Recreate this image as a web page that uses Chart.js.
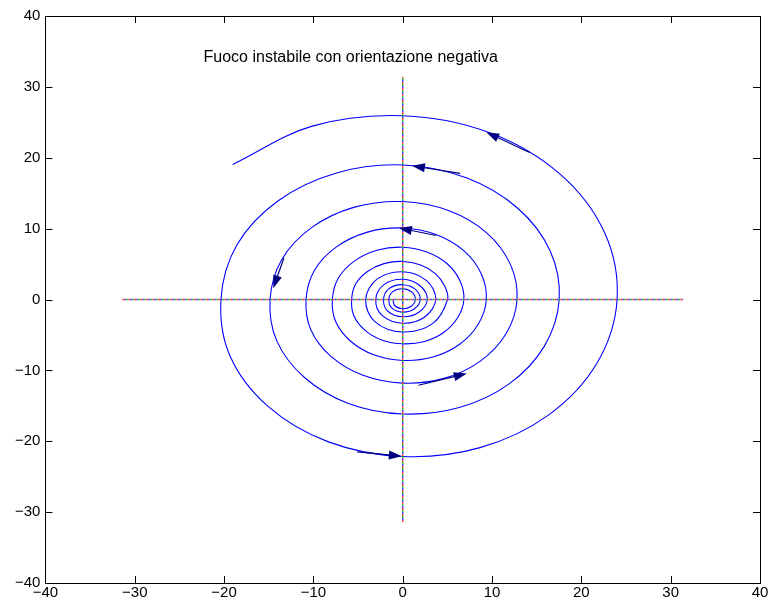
<!DOCTYPE html>
<html>
<head>
<meta charset="utf-8">
<title>Fuoco instabile con orientazione negativa</title>
<script src="https://cdn.jsdelivr.net/npm/chart.js@4.4.1/dist/chart.umd.min.js"></script>
<style>
    html, body { margin: 0; padding: 0; background: #fff; }
    #wrap { width: 773px; height: 603px; position: relative; }
</style>
</head>
<body>
<div id="wrap"><canvas id="phaseChart"></canvas></div>
<script>
// Axis limits and tick values (MATLAB style box)
const AXIS_MIN = -40;
const AXIS_MAX = 40;
const tickValues = [-40, -30, -20, -10, 0, 10, 20, 30, 40];

// Trajectory, from the centre outwards (counter-clockwise).
// Inner turns every 45 degrees, outer turns every 22.5 degrees.
const spiralX = [
    -1.10, -0.88, 0, 0.95, 1.41, 1.03, 0, -1.12,
    -1.55, -1.21, 0, 1.31, 1.96, 1.42, 0, -1.53,
    -2.15, -1.66, 0, 1.80, 2.75, 1.94, 0, -2.10,
    -3.02, -2.28, 0, 2.46, 3.70, 2.67, 0, -2.88,
    -4.15, -3.12, 0, 3.37,
    5.02, 4.68, 3.65, 2.01, 0, -2.10, -3.95, -5.27, -5.72, -5.48, -4.28, -2.36, 0, 2.45, 4.62, 6.16,
    6.85, 6.41, 5.01, 2.77, 0, -2.88, -5.42, -7.22, -7.88, -7.51, -5.86, -3.24, 0, 3.37, 6.34, 8.45,
    9.36, 8.79, 6.86, 3.79, 0, -3.94, -7.42, -9.89, -10.82, -10.29, -8.03, -4.44, 0, 4.62, 8.69, 11.58,
    12.80, 12.04, 9.40, 5.19, 0, -5.40, -10.17, -13.55, -14.85, -14.10, -11.00, -6.08, 0, 6.32, 11.91, 15.86,
    17.52, 16.51, 12.88, 7.12, 0, -7.40, -13.94, -18.57, -20.35, -19.32, -15.08, -8.32, 0, 8.66, 16.31, 21.74,
    24.00, 22.62, 17.65, 9.74, 0, -10.13, -19.05
];
const spiralY = [
    0, -0.88, -1.30, -0.95, 0, 1.03, 1.52, 1.12,
    0, -1.21, -1.78, -1.31, 0, 1.42, 2.09, 1.53,
    0, -1.66, -2.44, -1.80, 0, 1.94, 2.86, 2.10,
    0, -2.28, -3.35, -2.46, 0, 2.67, 3.92, 2.88,
    0, -3.12, -4.59, -3.37,
    0, 1.94, 3.65, 4.86, 5.37, 5.06, 3.95, 2.18, 0, -2.27, -4.28, -5.70, -6.25, -5.92, -4.62, -2.55,
    0, 2.66, 5.01, 6.67, 7.38, 6.94, 5.42, 2.99, 0, -3.11, -5.86, -7.81, -8.60, -8.12, -6.34, -3.50,
    0, 3.64, 6.86, 9.14, 10.09, 9.51, 7.42, 4.10, 0, -4.27, -8.03, -10.70, -11.80, -11.13, -8.69, -4.80,
    0, 4.99, 9.40, 12.52, 13.82, 13.03, 10.17, 5.62, 0, -5.84, -11.00, -14.66, -16.15, -15.25, -11.91, -6.58,
    0, 6.84, 12.88, 17.17, 18.98, 17.86, 13.94, 7.70, 0, -8.01, -15.08, -20.09, -22.15, -20.90, -16.31, -9.00,
    0, 9.37, 17.65, 23.52, 25.92, 24.46, 19.05
];

// Direction arrows on the trajectory (tail -> tip)
const arrowTailX = [14.20, 6.43, 3.75, -13.30, -5.10, 1.77];
const arrowTailY = [20.75, 17.80, 9.03, 5.86, -21.50, -12.10];
const arrowTipX = [9.35, 1.03, -0.43, -14.50, -0.10, 7.18];
const arrowTipY = [23.60, 18.87, 10.10, 1.60, -22.10, -10.45];

// Coordinate axes drawn inside the plot
const axisExtent = 31.4;
const axisColors = ['#ff4040', '#30b030', '#4040ff'];

// Title placed as text inside the axes
const titleText = 'Fuoco instabile con orientazione negativa';
const titleX = -22.3;
const titleY = 33.5;

const FONT = "'Liberation Sans', Arial, Helvetica, sans-serif";

function buildAxisDatasets() {
    const sets = [];
    axisColors.forEach((color, i) => {
        const common = {
            showLine: true,
            borderColor: color,
            borderWidth: 1.5,
            borderDash: [2, 4],
            borderDashOffset: i * 2,
            pointRadius: 0,
            order: 0
        };
        sets.push({ ...common, data: [{ x: -axisExtent, y: 0 }, { x: axisExtent, y: 0 }] });
        sets.push({ ...common, data: [{ x: 0, y: -axisExtent }, { x: 0, y: axisExtent }] });
    });
    return sets;
}

// Box, inward ticks, arrows and in-axes title
const matlabPlugin = {
    id: 'matlabDecor',
    afterDatasetsDraw(chart) {
        const ctx = chart.ctx;
        const xs = chart.scales.x;
        const ys = chart.scales.y;
        const area = chart.chartArea;

        ctx.save();

        // arrows
        ctx.strokeStyle = '#000080';
        ctx.fillStyle = '#000080';
        ctx.lineWidth = 1.2;
        for (let i = 0; i < arrowTipX.length; i++) {
            const x0 = xs.getPixelForValue(arrowTailX[i]);
            const y0 = ys.getPixelForValue(arrowTailY[i]);
            const x1 = xs.getPixelForValue(arrowTipX[i]);
            const y1 = ys.getPixelForValue(arrowTipY[i]);
            const ang = Math.atan2(y1 - y0, x1 - x0);
            const headLen = 13;
            const headHalf = 4.5;
            ctx.beginPath();
            ctx.moveTo(x0, y0);
            ctx.lineTo(x1 - Math.cos(ang) * headLen * 0.6, y1 - Math.sin(ang) * headLen * 0.6);
            ctx.stroke();
            const bx = x1 - Math.cos(ang) * headLen;
            const by = y1 - Math.sin(ang) * headLen;
            ctx.beginPath();
            ctx.moveTo(x1, y1);
            ctx.lineTo(bx + Math.sin(ang) * headHalf, by - Math.cos(ang) * headHalf);
            ctx.lineTo(bx - Math.sin(ang) * headHalf, by + Math.cos(ang) * headHalf);
            ctx.closePath();
            ctx.fill();
        }

        // title text
        ctx.fillStyle = '#000';
        ctx.font = '16px ' + FONT;
        ctx.textAlign = 'left';
        ctx.textBaseline = 'alphabetic';
        ctx.fillText(titleText, xs.getPixelForValue(titleX), ys.getPixelForValue(titleY));

        // box
        ctx.strokeStyle = '#000';
        ctx.lineWidth = 1;
        ctx.strokeRect(Math.round(area.left) + 0.5, Math.round(area.top) + 0.5,
            Math.round(area.right - area.left), Math.round(area.bottom - area.top));

        // inward tick marks on all four sides
        const tl = 7;
        ctx.beginPath();
        tickValues.forEach(v => {
            const px = Math.round(xs.getPixelForValue(v)) + 0.5;
            ctx.moveTo(px, area.bottom);
            ctx.lineTo(px, area.bottom - tl);
            ctx.moveTo(px, area.top);
            ctx.lineTo(px, area.top + tl);
            const py = Math.round(ys.getPixelForValue(v)) + 0.5;
            ctx.moveTo(area.left, py);
            ctx.lineTo(area.left + tl, py);
            ctx.moveTo(area.right, py);
            ctx.lineTo(area.right - tl, py);
        });
        ctx.stroke();

        ctx.restore();
    }
};

function tickLabel(value) {
    return String(value).replace('-', '\u2212');
}

function renderPhaseChart() {
    const ctx = document.getElementById('phaseChart');

    const spiralData = spiralX.map((x, i) => ({ x: x, y: spiralY[i] }));

    new Chart(ctx, {
        type: 'scatter',
        data: {
            datasets: [
                ...buildAxisDatasets(),
                {
                    label: 'traiettoria',
                    data: spiralData,
                    showLine: true,
                    borderColor: '#0000ff',
                    borderWidth: 1.1,
                    pointRadius: 0,
                    tension: 0.36,
                    order: 1
                }
            ]
        },
        options: {
            responsive: true,
            maintainAspectRatio: false,
            animation: false,
            layout: {
                padding: { left: 10, right: 13, top: 16, bottom: 0 }
            },
            plugins: {
                legend: { display: false },
                tooltip: { enabled: false }
            },
            scales: {
                x: {
                    type: 'linear',
                    min: AXIS_MIN,
                    max: AXIS_MAX,
                    afterBuildTicks: axis => { axis.ticks = tickValues.map(v => ({ value: v })); },
                    grid: { drawOnChartArea: false, drawTicks: false },
                    border: { display: true, color: '#000' },
                    ticks: {
                        color: '#000',
                        padding: 1,
                        maxRotation: 0,
                        autoSkip: false,
                        font: { family: FONT, size: 15 },
                        callback: tickLabel
                    }
                },
                y: {
                    type: 'linear',
                    min: AXIS_MIN,
                    max: AXIS_MAX,
                    afterBuildTicks: axis => { axis.ticks = tickValues.map(v => ({ value: v })); },
                    grid: { drawOnChartArea: false, drawTicks: false },
                    border: { display: true, color: '#000' },
                    ticks: {
                        color: '#000',
                        padding: 5,
                        autoSkip: false,
                        font: { family: FONT, size: 15 },
                        callback: tickLabel
                    }
                }
            }
        },
        plugins: [matlabPlugin]
    });
}

renderPhaseChart();
</script>
</body>
</html>
